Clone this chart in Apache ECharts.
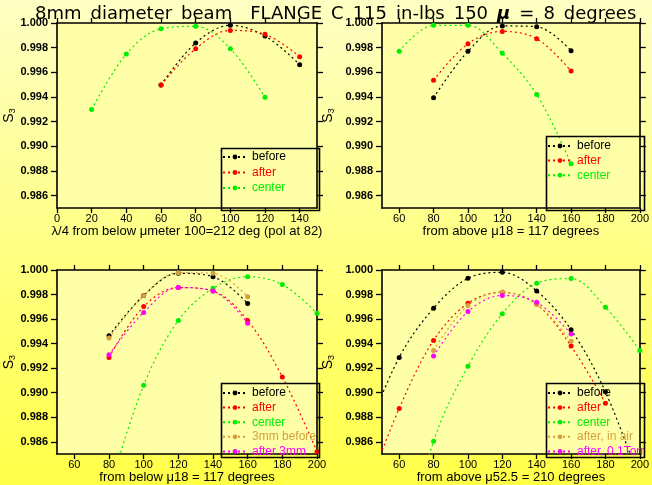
<!DOCTYPE html>
<html>
<head>
<meta charset="utf-8">
<script src="https://cdn.jsdelivr.net/npm/echarts@6/dist/echarts.min.js"></script>
<style>html,body{margin:0;padding:0;}#c{width:652px;height:485px;}</style>
</head>
<body>
<div id="c"></div>
<script>
// ---------- data ----------
const titleText = '8mm diameter beam  FLANGE C 115 in-lbs 150 ';
const xNames = ['λ/4 from below μmeter 100=212 deg (pol at 82)', 'from above μ18 = 117 degrees', 'from below μ18 = 117 degrees', 'from above μ52.5 = 210 degrees'];
const xTicks1 = [0, 20, 40, 60, 80, 100, 120, 140];
const xTicks234 = [60, 80, 100, 120, 140, 160, 180, 200];
const yTicks = [0.986, 0.988, 0.990, 0.992, 0.994, 0.996, 0.998, 1.000];

// panel 1
const p1BeforeX = [60, 80, 100, 120, 140];
const p1Before  = [0.99497, 0.99838, 0.99981, 0.99895, 0.99662];
const p1AfterX  = [60, 80, 100, 120, 140];
const p1After   = [0.99497, 0.99792, 0.99940, 0.99909, 0.99727];
const p1CenterX = [20, 40, 60, 80, 100, 120];
const p1Center  = [0.99299, 0.99748, 0.99954, 0.99973, 0.99792, 0.99397];
// panel 2
const p2BeforeX = [80, 100, 120, 140, 160];
const p2Before  = [0.99394, 0.99770, 0.99976, 0.99970, 0.99775];
const p2AfterX  = [80, 100, 120, 140, 160];
const p2After   = [0.99535, 0.99832, 0.99932, 0.99873, 0.99610];
const p2CenterX = [60, 80, 100, 120, 140, 160];
const p2Center  = [0.99770, 0.99981, 0.99981, 0.99754, 0.99421, 0.98858];
// panel 3
const p3BeforeX = [80, 100, 120, 140, 160];
const p3Before  = [0.99464, 0.99792, 0.99973, 0.99946, 0.99727];
const p3AfterX  = [80, 100, 120, 140, 160, 180, 200];
const p3After   = [0.99288, 0.99702, 0.99857, 0.99829, 0.99589, 0.99129, 0.98520];
const p3CenterX = [80, 100, 120, 140, 160, 180, 200];
const p3Center  = [0.98200, 0.99061, 0.99589, 0.99851, 0.99946, 0.99881, 0.99648];
const p3B3X     = [80, 100, 120, 140, 160];
const p3B3      = [0.99445, 0.99792, 0.99978, 0.99973, 0.99783];
const p3A3X     = [80, 100, 120, 140, 160];
const p3A3      = [0.99310, 0.99654, 0.99857, 0.99829, 0.99567];
// panel 4
const p4BeforeX = [40, 60, 80, 100, 120, 140, 160, 180, 200];
const p4Before  = [0.98630, 0.99288, 0.99689, 0.99932, 0.99981, 0.99829, 0.99513, 0.99007, 0.98280];
const p4AfterX  = [40, 60, 80, 100, 120, 140, 160, 180];
const p4After   = [0.98150, 0.98871, 0.99426, 0.99729, 0.99819, 0.99720, 0.99380, 0.98915];
const p4CenterX = [60, 80, 100, 120, 140, 160, 180, 200];
const p4Center  = [0.97500, 0.98605, 0.99215, 0.99643, 0.99892, 0.99930, 0.99697, 0.99345];
const p4AirX    = [80, 100, 120, 140, 160];
const p4Air     = [0.99345, 0.99710, 0.99819, 0.99721, 0.99419];
const p4TorrX   = [80, 100, 120, 140, 160];
const p4Torr    = [0.99299, 0.99662, 0.99792, 0.99737, 0.99479];

// ---------- styles ----------
const C = {black:'#000000', red:'#ff0000', green:'#00ee00', gold:'#d4a040', magenta:'#ff00ff'};
const FONT = '"Liberation Sans", Arial, sans-serif';
const grids = [
  {left:57, top:23, width:260, height:185},
  {left:382, top:23, width:260, height:185},
  {left:57, top:270, width:260, height:185},
  {left:382, top:270, width:260, height:185}
];
const xRanges = [[0,150],[50,200],[50,200],[50,200]];

function pairs(xs, ys){ return xs.map((x,i)=>[x, ys[i]]); }

function mkSeries(name, color, xs, ys, idx){
  return {
    name, type:'line', xAxisIndex:idx, yAxisIndex:idx,
    data: pairs(xs, ys), smooth:0.35, clip:true,
    symbol:'circle', symbolSize:5,
    itemStyle:{color},
    lineStyle:{color, width:1.2, type:[2,3]},
    emphasis:{disabled:true}, animation:false, z:3
  };
}

const series = [
  mkSeries('before', C.black, p1BeforeX, p1Before, 0),
  mkSeries('after', C.red, p1AfterX, p1After, 0),
  mkSeries('center', C.green, p1CenterX, p1Center, 0),
  mkSeries('before', C.black, p2BeforeX, p2Before, 1),
  mkSeries('after', C.red, p2AfterX, p2After, 1),
  mkSeries('center', C.green, p2CenterX, p2Center, 1),
  mkSeries('before', C.black, p3BeforeX, p3Before, 2),
  mkSeries('after', C.red, p3AfterX, p3After, 2),
  mkSeries('center', C.green, p3CenterX, p3Center, 2),
  mkSeries('3mm before', C.gold, p3B3X, p3B3, 2),
  mkSeries('after 3mm', C.magenta, p3A3X, p3A3, 2),
  mkSeries('before', C.black, p4BeforeX, p4Before, 3),
  mkSeries('after', C.red, p4AfterX, p4After, 3),
  mkSeries('center', C.green, p4CenterX, p4Center, 3),
  mkSeries('after, in air', C.gold, p4AirX, p4Air, 3),
  mkSeries('after, 0.1Torr', C.magenta, p4TorrX, p4Torr, 3)
];

const lineCol = {lineStyle:{color:'#000', width:1.6}};
const xAxes = [], yAxes = [];
for (let i=0;i<4;i++){
  const ticks = i===0 ? xTicks1 : xTicks234;
  xAxes.push({
    type:'value', gridIndex:i, position:'bottom', min:xRanges[i][0], max:xRanges[i][1],
    axisLine:{show:true, onZero:false, ...lineCol},
    axisTick:{show:true, length:5, customValues:ticks, lineStyle:{color:'#000', width:1.3}},
    axisLabel:{customValues:ticks, color:'#000', fontSize:11, fontFamily:FONT, margin:5},
    splitLine:{show:false},
    name:xNames[i], nameLocation:'middle', nameGap:(i<2?14:16),
    nameTextStyle:{color:'#000', fontSize:13, fontFamily:FONT}
  });
}
for (let i=0;i<4;i++){
  const ticks = i===0 ? xTicks1 : xTicks234;
  xAxes.push({
    type:'value', gridIndex:i, position:'top', min:xRanges[i][0], max:xRanges[i][1],
    axisLine:{show:true, onZero:false, ...lineCol},
    axisTick:{show:true, length:5, customValues:ticks, lineStyle:{color:'#000', width:1.3}},
    axisLabel:{show:false}, splitLine:{show:false}
  });
}
for (let i=0;i<4;i++){
  yAxes.push({
    type:'value', gridIndex:i, position:'left', min:0.985, max:1.0,
    axisLine:{show:true, onZero:false, ...lineCol},
    axisTick:{show:true, length:6, customValues:yTicks, lineStyle:{color:'#000', width:1.3}},
    axisLabel:{customValues:yTicks, color:'#000', fontSize:11, fontWeight:'bold', fontFamily:FONT, margin:9,
      formatter:(v)=>v.toFixed(3)},
    splitLine:{show:false},
    name:'{s|S}{sub|3}', nameLocation:'middle', nameRotate:90, nameGap:(i%2===0?40:46),
    nameTextStyle:{rich:{s:{fontSize:14, fontFamily:FONT, color:'#000'}, sub:{fontSize:9, fontFamily:FONT, color:'#000', verticalAlign:'bottom', padding:[6,0,0,0]}}}
  });
}
for (let i=0;i<4;i++){
  yAxes.push({
    type:'value', gridIndex:i, position:'right', min:0.985, max:1.0,
    axisLine:{show:true, onZero:false, ...lineCol},
    axisTick:{show:true, length:6, customValues:yTicks, lineStyle:{color:'#000', width:1.3}},
    axisLabel:{show:false}, splitLine:{show:false}
  });
}

function legendItems(names, colors){
  return names.map((n,i)=>({name:n, textStyle:{color:colors[i]}}));
}
const legBase = {orient:'vertical', padding:0, itemWidth:24, itemHeight:6, itemGap:0.6, selectedMode:false,
  textStyle:{fontSize:12, fontFamily:FONT, lineHeight:14}};
const legends = [
  {...legBase, left:222, top:150, itemGap:1.5, data:legendItems(['before','after','center'],[C.black,C.red,C.green])},
  {...legBase, left:547, top:139, data:legendItems(['before','after','center'],[C.black,C.red,C.green])},
  {...legBase, left:222, top:386, data:legendItems(['before','after','center','3mm before','after 3mm'],[C.black,C.red,C.green,C.gold,C.magenta])},
  {...legBase, left:547, top:386, data:legendItems(['before','after','center','after, in air','after, 0.1Torr'],[C.black,C.red,C.green,C.gold,C.magenta])}
];

const boxStyle = {fill:'none', stroke:'#000', lineWidth:1.6};
const graphic = [
  {type:'rect', left:219, top:146, shape:{width:98, height:62}, style:boxStyle, z:10},
  {type:'rect', left:544, top:134, shape:{width:98, height:74}, style:boxStyle, z:10},
  {type:'rect', left:219, top:381, shape:{width:98, height:74}, style:boxStyle, z:10},
  {type:'rect', left:544, top:381, shape:{width:98, height:74}, style:boxStyle, z:10}
];

const SP = '\u2002';
const titleShown = titleText.split(' ').join(SP) + '{mu|μ}' + SP + '=' + SP + '8' + SP + 'degrees';

const chart = echarts.init(document.getElementById('c'), null, {renderer:'canvas'});
chart.setOption({
  animation:false,
  backgroundColor:{type:'linear', x:0, y:0, x2:0, y2:1, colorStops:[{offset:0, color:'#ffffc4'},{offset:1, color:'#ffff48'}]},
  title:{text:titleShown, left:30, top:0,
    textStyle:{fontSize:18, fontWeight:'normal', fontFamily:'"DejaVu Sans", sans-serif', color:'#000',
      rich:{mu:{fontSize:18, fontWeight:'bold', fontStyle:'italic', fontFamily:'"DejaVu Sans", sans-serif', color:'#000'}}}},
  grid: grids.map(g=>({...g, show:true, backgroundColor:'#ffffa8', borderWidth:0})),
  xAxis: xAxes, yAxis: yAxes,
  legend: legends,
  graphic: graphic,
  series: series
});
</script>
</body>
</html>
